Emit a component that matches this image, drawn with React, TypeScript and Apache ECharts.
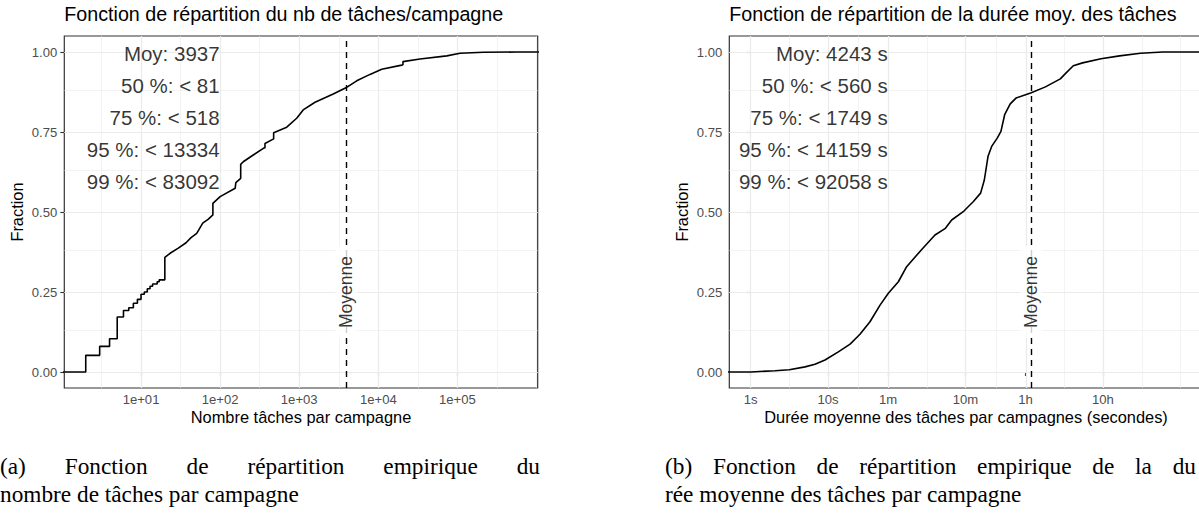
import React, { useEffect, useRef } from "react";
import * as echarts from "echarts";

// ---------------- data ----------------
// ECDF vertices of the number of tasks per campaign
const taskCounts = [
  1, 2, 2, 3, 3, 4, 4, 5, 5, 6, 6, 7, 7, 8, 8, 9, 9, 10, 10, 11, 11, 12, 12, 13, 13, 14, 14, 16, 16, 17, 17, 20, 20,
  23.3, 29.6, 37.1, 42.9, 50.6, 60.3, 71, 81, 81, 100, 155, 158, 182, 182, 196, 251, 352, 369, 369, 462, 475, 475,
  695, 929, 1122, 1585, 2692, 3890, 5333, 7852, 11040, 19770, 20500, 20500, 33650, 73280, 107900, 213800, 553000, 2000000,
];
const taskFractions = [
  0, 0, 0.052, 0.052, 0.08, 0.08, 0.104, 0.104, 0.172, 0.172, 0.192, 0.192, 0.201, 0.201, 0.215, 0.215, 0.227, 0.227,
  0.243, 0.243, 0.25, 0.25, 0.26, 0.26, 0.268, 0.268, 0.275, 0.275, 0.282, 0.282, 0.288, 0.288, 0.358,
  0.371, 0.387, 0.404, 0.42, 0.433, 0.465, 0.478, 0.491, 0.527, 0.548, 0.574, 0.592, 0.605, 0.649, 0.657, 0.675, 0.699,
  0.701, 0.714, 0.727, 0.729, 0.748, 0.765, 0.793, 0.819, 0.843, 0.869, 0.888, 0.91, 0.93, 0.946, 0.959, 0.96, 0.97,
  0.978, 0.988, 0.996, 0.999, 1, 1,
];

// ECDF vertices of the mean task duration (seconds)
const durationSeconds = [
  0.5, 1, 2.06, 3.16, 5.04, 6.79, 9.14, 13.6, 19.3, 25.9, 34.9, 47.1, 60.3, 81.3, 104, 163, 242, 330, 398, 573, 755,
  942, 1052, 1175, 1309, 1545, 1726, 1928, 2275, 2700, 4180, 6500, 10120, 11940, 14890, 19630, 34040, 59160, 110000,
  214000, 10000000,
];
const durationFractions = [
  0, 0, 0.004, 0.007, 0.016, 0.024, 0.0375, 0.063, 0.087, 0.118, 0.157, 0.209, 0.246, 0.282, 0.329, 0.383, 0.428, 0.449,
  0.475, 0.503, 0.532, 0.559, 0.6, 0.674, 0.705, 0.731, 0.752, 0.804, 0.838, 0.856, 0.872, 0.891, 0.916, 0.934, 0.957,
  0.966, 0.979, 0.988, 0.996, 1, 1,
];

const countTicks = [10, 100, 1000, 10000, 100000];
const countTickLabels = ["1e+01", "1e+02", "1e+03", "1e+04", "1e+05"];
const durationTicks = [1, 10, 60, 600, 3600, 36000];
const durationTickLabels = ["1s", "10s", "1m", "10m", "1h", "10h"];
const fractionTicks = [0, 0.25, 0.5, 0.75, 1];
const fractionTickLabels = ["0.00", "0.25", "0.50", "0.75", "1.00"];

const taskMean = 3937;
const durationMean = 4243;
const taskStats = ["Moy: 3937", "50 %: < 81", "75 %: < 518", "95 %: < 13334", "99 %: < 83092"];
const durationStats = ["Moy: 4243 s", "50 %: < 560 s", "75 %: < 1749 s", "95 %: < 14159 s", "99 %: < 92058 s"];
const statLevels = [1, 0.9, 0.8, 0.7, 0.6];
const meanLabel = "Moyenne";

const titleLeft = "Fonction de répartition du nb de tâches/campagne";
const titleRight = "Fonction de répartition de la durée moy. des tâches";
const xNameLeft = "Nombre tâches par campagne";
const xNameRight = "Durée moyenne des tâches par campagnes (secondes)";
const yName = "Fraction";
const captionA1 = ["(a)", "Fonction", "de", "répartition", "empirique", "du"];
const captionA2 = "nombre de tâches par campagne";
const captionB1 = ["(b)", "Fonction", "de", "répartition", "empirique", "de", "la", "du"];
const captionB2 = "rée moyenne des tâches par campagne";

// ---------------- helpers ----------------
const SANS = "'Liberation Sans', Arial, Helvetica, sans-serif";
const SERIF = "'Liberation Serif', 'Times New Roman', serif";
const CAP_SIZE = 23.3;
const lg = (v: number) => Math.log10(v);

function minorBreaks(majors: number[]): number[] {
  const n = majors.length;
  const b = [majors[0] - (majors[1] - majors[0]), ...majors, majors[n - 1] + (majors[n - 1] - majors[n - 2])];
  const out: number[] = [];
  for (let i = 0; i < b.length - 1; i++) {
    out.push(b[i], (b[i] + b[i + 1]) / 2);
  }
  out.push(b[b.length - 1]);
  return out;
}

function justify(words: string[], x0: number, width: number, y: number, size: number) {
  const ctx = document.createElement("canvas").getContext("2d") as CanvasRenderingContext2D;
  ctx.font = `${size}px ${SERIF}`;
  const widths = words.map((w) => ctx.measureText(w).width);
  const total = widths.reduce((a, b) => a + b, 0);
  const gap = (width - total) / (words.length - 1);
  let x = x0;
  return words.map((w, i) => {
    const el = {
      type: "text",
      x,
      y,
      silent: true,
      style: { text: w, fontSize: size, fontFamily: SERIF, fill: "#000", align: "left", verticalAlign: "middle" },
    };
    x += widths[i] + gap;
    return el;
  });
}

const GRID_TOP = 36;
const GRID_H = 352;
const GRID_W = 473.4;
const LEFT_A = 64.3;
const LEFT_B = 729.3;

function gridSeries(idx: number, xMajor: number[], xMin: number, xMax: number) {
  const xMinor = minorBreaks(xMajor).filter((v) => v > xMin && v < xMax);
  const yMinor = [0.125, 0.375, 0.625, 0.875];
  const minor = { color: "#EBEBEB", width: 0.6, type: "solid" };
  const major = { color: "#EBEBEB", width: 1.2, type: "solid" };
  return {
    type: "line",
    xAxisIndex: idx,
    yAxisIndex: idx,
    data: [],
    z: 1,
    silent: true,
    markLine: {
      silent: true,
      z: 1,
      symbol: ["none", "none"],
      label: { show: false },
      emphasis: { disabled: true },
      lineStyle: minor,
      data: [
        ...xMinor.map((v) => ({ xAxis: v, lineStyle: minor })),
        ...yMinor.map((v) => ({ yAxis: v, lineStyle: minor })),
        ...xMajor.map((v) => ({ xAxis: v, lineStyle: major })),
        ...fractionTicks.map((v) => ({ yAxis: v, lineStyle: major })),
      ],
    },
  };
}

function xAxisDef(idx: number, min: number, max: number, ticks: number[], labels: string[], name: string) {
  const vals = ticks.map(lg);
  return {
    type: "value",
    gridIndex: idx,
    min,
    max,
    axisLine: { show: false },
    splitLine: { show: false },
    axisTick: { show: true, customValues: vals, length: 4, lineStyle: { color: "#333333", width: 1.1 } },
    axisLabel: {
      show: true,
      customValues: vals,
      margin: 5,
      color: "#4D4D4D",
      fontSize: 13.1,
      fontFamily: SANS,
      formatter: (v: number) => {
        const i = vals.findIndex((t) => Math.abs(t - v) < 1e-6);
        return i >= 0 ? labels[i] : "";
      },
    },
    name,
    nameLocation: "middle",
    nameGap: 21,
    nameMoveOverlap: false,
    nameTextStyle: { color: "#000", fontSize: 16.4, fontFamily: SANS },
  };
}

function yAxisDef(idx: number) {
  return {
    type: "value",
    gridIndex: idx,
    min: -0.05,
    max: 1.05,
    axisLine: { show: false },
    splitLine: { show: false },
    axisTick: { show: true, customValues: fractionTicks, length: 4, lineStyle: { color: "#333333", width: 1.1 } },
    axisLabel: {
      show: true,
      customValues: fractionTicks,
      margin: 7,
      color: "#4D4D4D",
      fontSize: 13.1,
      fontFamily: SANS,
      formatter: (v: number) => {
        const i = fractionTicks.findIndex((t) => Math.abs(t - v) < 1e-6);
        return i >= 0 ? fractionTickLabels[i] : "";
      },
    },
    name: yName,
    nameLocation: "middle",
    nameGap: 39,
    nameMoveOverlap: false,
    nameTextStyle: { color: "#000", fontSize: 16.4, fontFamily: SANS },
  };
}

function panelSeries(idx: number, xs: number[], ys: number[], mean: number, stats: string[], statX: number) {
  return [
    {
      type: "line",
      xAxisIndex: idx,
      yAxisIndex: idx,
      data: xs.map((x, i) => [lg(x), ys[i]]),
      showSymbol: false,
      symbol: "none",
      clip: true,
      z: 3,
      silent: true,
      lineStyle: { color: "#000", width: 1.6 },
    },
    {
      type: "line",
      xAxisIndex: idx,
      yAxisIndex: idx,
      data: [],
      z: 4,
      silent: true,
      markLine: {
        silent: true,
        z: 4,
        symbol: ["none", "none"],
        label: { show: false },
        lineStyle: { color: "#000", type: [6, 5], width: 1.4 },
        data: [{ xAxis: lg(mean) }],
      },
    },
    {
      type: "scatter",
      xAxisIndex: idx,
      yAxisIndex: idx,
      data: [[lg(mean), 0.25]],
      symbolSize: 1,
      z: 6,
      silent: true,
      itemStyle: { color: "rgba(0,0,0,0)" },
      label: {
        show: true,
        position: "inside",
        rotate: 90,
        formatter: meanLabel,
        color: "#000",
        fontSize: 17.5,
        fontFamily: SANS,
        backgroundColor: "#fff",
        padding: [2, 10],
      },
    },
    {
      type: "scatter",
      xAxisIndex: idx,
      yAxisIndex: idx,
      data: statLevels.map((y) => [lg(statX), y]),
      symbolSize: 1,
      z: 6,
      silent: true,
      itemStyle: { color: "rgba(0,0,0,0)" },
      label: {
        show: true,
        position: "left",
        distance: 0,
        offset: [0, 1],
        formatter: (p: any) => stats[p.dataIndex],
        color: "#000",
        fontSize: 20.5,
        fontFamily: SANS,
      },
    },
  ];
}

export default function App() {
  const ref = useRef<HTMLDivElement>(null);

  useEffect(() => {
    if (!ref.current) return;
    const chart = echarts.init(ref.current, null, { renderer: "svg" });

    const aMin = 0.03;
    const aMax = 6.015;
    const bMin = -0.277;
    const bMax = 5.847;

    const titleStyle = { fontSize: 19.7, fontWeight: "normal", color: "#000", fontFamily: SANS };
    const option: any = {
      animation: false,
      backgroundColor: "#fff",
      textStyle: { fontFamily: SANS },
      title: [
        { text: titleLeft, left: LEFT_A, top: 4, padding: 0, textStyle: titleStyle },
        { text: titleRight, left: LEFT_B, top: 4, padding: 0, textStyle: titleStyle },
      ],
      grid: [
        { left: LEFT_A, top: GRID_TOP, width: GRID_W, height: GRID_H, show: true, backgroundColor: "#fff", borderColor: "#333333", borderWidth: 1.2, containLabel: false, outerBoundsMode: "none" },
        { left: LEFT_B, top: GRID_TOP, width: GRID_W, height: GRID_H, show: true, backgroundColor: "#fff", borderColor: "#333333", borderWidth: 1.2, containLabel: false, outerBoundsMode: "none" },
      ],
      xAxis: [
        xAxisDef(0, aMin, aMax, countTicks, countTickLabels, xNameLeft),
        xAxisDef(1, bMin, bMax, durationTicks, durationTickLabels, xNameRight),
      ],
      yAxis: [yAxisDef(0), yAxisDef(1)],
      series: [
        gridSeries(0, countTicks.map(lg), aMin, aMax),
        gridSeries(1, durationTicks.map(lg), bMin, bMax),
        ...panelSeries(0, taskCounts, taskFractions, taskMean, taskStats, 100),
        ...panelSeries(1, durationSeconds, durationFractions, durationMean, durationStats, 60),
      ],
      graphic: [
        ...justify(captionA1, 0, 540, 466, CAP_SIZE),
        { type: "text", x: 0, y: 494, silent: true, style: { text: captionA2, fontSize: CAP_SIZE, fontFamily: SERIF, fill: "#000", align: "left", verticalAlign: "middle" } },
        ...justify(captionB1, 665, 531, 466, CAP_SIZE),
        { type: "text", x: 665, y: 494, silent: true, style: { text: captionB2, fontSize: CAP_SIZE, fontFamily: SERIF, fill: "#000", align: "left", verticalAlign: "middle" } },
      ],
    };
    chart.setOption(option);
    return () => chart.dispose();
  }, []);

  return (
    <div style={{ position: "fixed", left: 0, top: 0, width: 1199, height: 514, overflow: "hidden", background: "#fff" }}>
      <div ref={ref} style={{ width: 1270, height: 514 }} />
    </div>
  );
}
